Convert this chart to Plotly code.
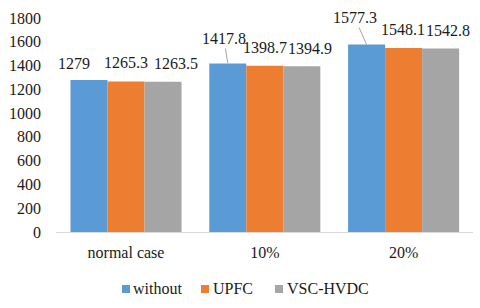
import plotly.graph_objects as go

categories = ["normal case", "10%", "20%"]
series_names = ["without", "UPFC", "VSC-HVDC"]
without = [1279, 1417.8, 1577.3]
upfc = [1265.3, 1398.7, 1548.1]
vsc_hvdc = [1263.5, 1394.9, 1542.8]
y_ticks = [0, 200, 400, 600, 800, 1000, 1200, 1400, 1600, 1800]

colors = ["#5B9BD5", "#ED7D31", "#A5A5A5"]
series_values = [without, upfc, vsc_hvdc]
FONT = "Times New Roman, Liberation Serif, DejaVu Serif, serif"
TXT = "#1a1a1a"

# plot area in pixels (for placing the custom legend)
L, R, T, B, W, H = 56, 7, 18, 76, 480, 308
PW, PH = W - L - R, H - T - B

fig = go.Figure()
for name, vals, col in zip(series_names, series_values, colors):
    fig.add_trace(go.Bar(name=name, x=categories, y=vals, marker_color=col,
                         marker_line_width=0, showlegend=False))

# label offsets (pixels) per series/category: (xshift, yshift, arrow?)
label_style = [
    [(-15, 16, None), (-4, -25, "arrow"), (-12, -27, "arrow")],
    [(0, 19, None), (0, 18, None), (-1, 18, None)],
    [(13, 18, None), (8, 18, None), (7, 18, None)],
]
group_w = 0.8
n = len(series_names)
for i, vals in enumerate(series_values):
    for j, v in enumerate(vals):
        xpos = j + (i - (n - 1) / 2) * group_w / n
        dx, dy, kind = label_style[i][j]
        txt = f"{v:g}"
        if kind == "arrow":
            fig.add_annotation(x=xpos, y=v, xref="x", yref="y", text=txt,
                               showarrow=True, arrowhead=0, arrowwidth=1,
                               arrowcolor="#A6A6A6", ax=dx, ay=dy,
                               font=dict(family=FONT, size=16, color=TXT))
        else:
            fig.add_annotation(x=xpos, y=v, xref="x", yref="y", text=txt,
                               showarrow=False, xshift=dx, yshift=dy,
                               yanchor="middle",
                               font=dict(family=FONT, size=16, color=TXT))

# custom compact legend (square + name), pixel layout converted to paper
legend_sq_px = [122, 201, 275]
legend_txt_px = [131, 211, 285]
sq_top, sq_bot, txt_mid = 285, 293, 289
for name, col, sx, tx in zip(series_names, colors, legend_sq_px, legend_txt_px):
    fig.add_shape(type="rect", xref="paper", yref="paper",
                  x0=(sx - L) / PW, x1=(sx + 8 - L) / PW,
                  y0=(T + PH - sq_bot) / PH, y1=(T + PH - sq_top) / PH,
                  fillcolor=col, line_width=0)
    fig.add_annotation(xref="paper", yref="paper", x=(tx - L) / PW,
                       y=(T + PH - txt_mid) / PH, xanchor="left",
                       yanchor="middle", text=name, showarrow=False,
                       font=dict(family=FONT, size=16, color=TXT))

fig.update_layout(
    width=W, height=H,
    margin=dict(l=L, r=R, t=T, b=B, autoexpand=False),
    paper_bgcolor="white", plot_bgcolor="white",
    barmode="group", bargap=0.2, bargroupgap=0,
    font=dict(family=FONT, size=16, color=TXT),
    showlegend=False,
)
fig.update_xaxes(showline=True, linecolor="#D9D9D9", linewidth=1,
                 showgrid=False, ticks="", ticklabelstandoff=6,
                 automargin=False,
                 tickfont=dict(family=FONT, size=16, color=TXT))
fig.update_yaxes(range=[0, 1800], tickvals=y_ticks, showgrid=False,
                 showline=False, zeroline=False, ticks="",
                 automargin=False,
                 ticklabelstandoff=14, tickfont=dict(family=FONT, size=16, color=TXT))

fig.write_html("out.html", config={"displayModeBar": False},
               post_script="document.body.style.margin='0';document.body.style.padding='0';")
